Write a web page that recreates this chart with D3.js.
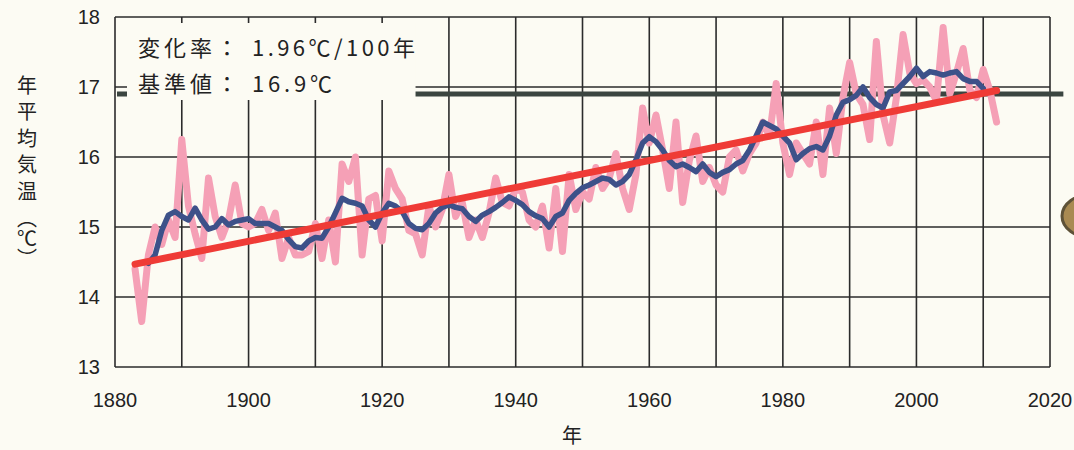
<!DOCTYPE html>
<meta charset="utf-8">
<html>
  <head>
    <title>年平均気温</title>
    <script src="https://d3js.org/d3.v7.min.js"></script>
    <style>
      body { margin: 0; background: #fcfbf3; }
      svg { display: block; }
      .tick-label { font: 20px "Liberation Sans", Arial, sans-serif; fill: #222; }
      .jp { font-family: "Noto Sans CJK JP", sans-serif; fill: #222; }
    </style>
  </head>
  <body>
    <div id="chart"></div>
    <script>
      // annual mean temperature, 1883-2012
      var years = d3.range(1883, 2013);
      var annual = [
        14.4, 13.65, 14.6, 15.0, 14.75, 15.1, 14.85,                  // 1883-1889
        16.25, 15.3, 14.9, 14.55, 15.7, 15.15, 14.85, 15.1, 15.6, 15.05, // 1890s
        15.0, 15.05, 15.25, 14.95, 15.2, 14.55, 14.85, 14.6, 14.6, 14.65, // 1900s
        15.05, 14.55, 15.1, 14.5, 15.9, 15.65, 16.0, 14.6, 15.4, 15.45,  // 1910s
        14.8, 15.8, 15.55, 15.4, 14.95, 14.9, 14.6, 15.3, 15.0, 15.25,   // 1920s
        15.75, 15.15, 15.35, 14.85, 15.1, 14.85, 15.2, 15.7, 15.35, 15.3, // 1930s
        15.55, 15.5, 15.1, 15.0, 15.3, 14.7, 15.55, 14.65, 15.75, 15.25, // 1940s
        15.5, 15.4, 15.85, 15.55, 15.7, 16.05, 15.55, 15.25, 15.75, 16.7, // 1950s
        16.2, 16.6, 16.1, 15.55, 16.5, 15.35, 15.95, 16.3, 15.65, 15.85, // 1960s
        15.6, 15.5, 16.0, 16.1, 15.8, 16.05, 16.2, 16.5, 16.3, 17.05,    // 1970s
        16.2, 15.75, 16.2, 16.05, 15.9, 16.5, 15.75, 16.7, 16.05, 16.85, // 1980s
        17.35, 16.9, 16.75, 16.25, 17.65, 16.6, 16.2, 16.85, 17.75, 17.2, // 1990s
        17.05, 17.1, 17.0, 16.8, 17.85, 16.9, 17.2, 17.55, 16.95, 16.85, // 2000s
        17.25, 16.95, 16.5                                               // 2010-2012
      ];

      // 5-year running mean, 1885-2010
      var meanYears = d3.range(1885, 2011);
      var runningMean = [
        14.48, 14.6, 14.95, 15.17, 15.22,                                  // 1885-1889
        15.15, 15.1, 15.27, 15.1, 14.97, 15.0, 15.12, 15.03, 15.08, 15.1,  // 1890s
        15.12, 15.05, 15.05, 15.05, 15.0, 14.95, 14.82, 14.72, 14.7, 14.8, // 1900s
        14.85, 14.84, 15.0, 15.2, 15.41, 15.36, 15.34, 15.3, 15.1, 15.0,   // 1910s
        15.2, 15.34, 15.3, 15.22, 15.05, 14.98, 14.96, 15.05, 15.2, 15.28, // 1920s
        15.32, 15.28, 15.26, 15.15, 15.08, 15.17, 15.22, 15.28, 15.35, 15.43, // 1930s
        15.38, 15.32, 15.22, 15.16, 15.12, 15.0, 15.15, 15.2, 15.38, 15.48, // 1940s
        15.56, 15.6, 15.65, 15.7, 15.68, 15.6, 15.65, 15.75, 15.96, 16.2,  // 1950s
        16.29, 16.22, 16.1, 15.95, 15.86, 15.9, 15.85, 15.79, 15.9, 15.78, // 1960s
        15.72, 15.78, 15.82, 15.9, 15.95, 16.1, 16.3, 16.5, 16.45, 16.4,   // 1970s
        16.3, 16.2, 15.96, 16.05, 16.12, 16.15, 16.1, 16.3, 16.6, 16.78,   // 1980s
        16.82, 16.88, 17.0, 16.85, 16.75, 16.7, 16.93, 16.95, 17.05, 17.15, // 1990s
        17.27, 17.15, 17.22, 17.2, 17.17, 17.2, 17.22, 17.12, 17.08, 17.08, // 2000s
        16.98                                                              // 2010
      ];

      // long-term trend (1.96 °C / 100 years)
      var trendYears = [1883, 2012];
      var trendValues = [14.47, 16.95];

      // reference (normal) value
      var baseValue = 16.9;
      var baseYears = [1880, 2022];

      var xTicks = [1880, 1900, 1920, 1940, 1960, 1980, 2000, 2020];
      var yTicks = [13, 14, 15, 16, 17, 18];
      var gridYears = d3.range(1880, 2021, 10);

      var width = 1074, height = 450;
      var plotLeft = 115, plotRight = 1050, plotTop = 17, plotBottom = 367;

      var x = d3.scaleLinear().domain([1880, 2020]).range([plotLeft, plotRight]);
      var y = d3.scaleLinear().domain([13, 18]).range([plotBottom, plotTop]);

      var svg = d3.select("#chart").append("svg")
        .attr("width", width)
        .attr("height", height);

      svg.append("rect")
        .attr("width", width).attr("height", height)
        .attr("fill", "#fcfbf3");

      // grid
      var grid = svg.append("g").attr("stroke", "#2b2b2b").attr("stroke-width", 1.6);
      grid.selectAll("line.v").data(gridYears).enter().append("line")
        .attr("class", "v")
        .attr("x1", function(d) { return x(d); }).attr("x2", function(d) { return x(d); })
        .attr("y1", y(18)).attr("y2", y(13));
      grid.selectAll("line.h").data(yTicks).enter().append("line")
        .attr("class", "h")
        .attr("x1", x(1880)).attr("x2", x(2020))
        .attr("y1", function(d) { return y(d); }).attr("y2", function(d) { return y(d); });

      // reference line
      svg.append("line")
        .attr("x1", x(baseYears[0]) + 2).attr("x2", x(baseYears[1]))
        .attr("y1", y(baseValue)).attr("y2", y(baseValue))
        .attr("stroke", "#3b4540")
        .attr("stroke-width", 5);

      // legend box covering the grid
      svg.append("rect")
        .attr("x", x(1880) + 12).attr("y", y(18) + 6)
        .attr("width", x(1925) - x(1880) - 12).attr("height", 77)
        .attr("fill", "#fcfbf3");

      var legend = svg.append("g").attr("class", "jp").style("font-size", "22px");
      legend.append("text")
        .attr("x", 138).attr("y", 56)
        .attr("textLength", 100).attr("lengthAdjust", "spacing")
        .text("変化率：");
      legend.append("text")
        .attr("x", 252).attr("y", 56)
        .attr("textLength", 163).attr("lengthAdjust", "spacing")
        .text("1.96℃/100年");
      legend.append("text")
        .attr("x", 138).attr("y", 92)
        .attr("textLength", 100).attr("lengthAdjust", "spacing")
        .text("基準値：");
      legend.append("text")
        .attr("x", 252).attr("y", 92)
        .attr("textLength", 80).attr("lengthAdjust", "spacing")
        .text("16.9℃");

      var line = d3.line()
        .x(function(d) { return x(d[0]); })
        .y(function(d) { return y(d[1]); });

      svg.append("path")
        .datum(d3.zip(years, annual))
        .attr("d", line)
        .attr("fill", "none")
        .attr("stroke", "#f5a0b6")
        .attr("stroke-width", 7)
        .attr("stroke-linejoin", "round")
        .attr("stroke-linecap", "round");

      svg.append("path")
        .datum(d3.zip(meanYears, runningMean))
        .attr("d", line)
        .attr("fill", "none")
        .attr("stroke", "#3d5189")
        .attr("stroke-width", 5.5)
        .attr("stroke-linejoin", "round")
        .attr("stroke-linecap", "round");

      svg.append("path")
        .datum(d3.zip(trendYears, trendValues))
        .attr("d", line)
        .attr("fill", "none")
        .attr("stroke", "#ef3b36")
        .attr("stroke-width", 7)
        .attr("stroke-linecap", "round");

      // tick labels
      svg.selectAll("text.ylab").data(yTicks).enter().append("text")
        .attr("class", "tick-label ylab")
        .attr("x", 100)
        .attr("y", function(d) { return y(d) + 7; })
        .attr("text-anchor", "end")
        .text(function(d) { return d; });

      svg.selectAll("text.xlab").data(xTicks).enter().append("text")
        .attr("class", "tick-label xlab")
        .attr("x", function(d) { return x(d); })
        .attr("y", 407)
        .attr("text-anchor", "middle")
        .text(function(d) { return d; });

      // axis titles
      svg.append("text")
        .attr("class", "jp")
        .attr("x", 572).attr("y", 443)
        .attr("text-anchor", "middle")
        .style("font-size", "20px")
        .text("年");

      var yTitle = svg.append("text")
        .attr("class", "jp")
        .attr("x", 27).attr("y", 75)
        .style("font-size", "20px")
        .style("writing-mode", "vertical-rl");
      yTitle.append("tspan")
        .style("letter-spacing", "6.5px")
        .text("年平均気温");
      yTitle.append("tspan")
        .style("letter-spacing", "0px")
        .text("（℃）");

      // edge of the next picture on the scanned page
      svg.append("ellipse")
        .attr("cx", 1092).attr("cy", 216).attr("rx", 30).attr("ry", 22)
        .attr("fill", "#a98a52").attr("stroke", "#5e5238").attr("stroke-width", 3);
    </script>
  </body>
</html>
